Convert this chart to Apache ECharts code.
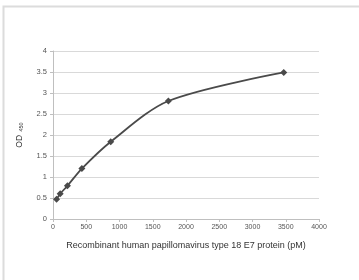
<!DOCTYPE html>
<html><head><meta charset="utf-8">
<script src="https://cdn.jsdelivr.net/npm/echarts@6/dist/echarts.min.js"></script>
<style>html,body{margin:0;padding:0;background:#fff}#c{width:359px;height:280px}</style>
</head><body><div id="c"></div>
<script>
const concentrations = [54, 108, 217, 434, 868, 1735, 3470];
const odValues = [0.47, 0.60, 0.79, 1.20, 1.84, 2.81, 3.49];
const xTitle = 'Recombinant human papillomavirus type 18 E7 protein (pM)';

const chart = echarts.init(document.getElementById('c'));
const font = '"Liberation Sans", Arial, sans-serif';
chart.setOption({
  animation: false,
  backgroundColor: '#fff',
  graphic: [{type:'rect', shape:{x:3.5,y:6.5,width:420,height:400}, style:{fill:'none', stroke:'#dcdcdc', lineWidth:2}}],
  grid: {left: 53, right: 40, top: 51, bottom: 61},
  xAxis: {
    type: 'value', min: 0, max: 4000, interval: 500,
    name: xTitle, nameLocation: 'middle', nameGap: 22,
    nameTextStyle: {fontFamily: font, fontSize: 9, color: '#333'},
    axisLine: {show: true, lineStyle: {color: '#bfbfbf'}},
    axisTick: {show: true, length: 3, lineStyle: {color: '#bfbfbf'}},
    axisLabel: {fontFamily: font, fontSize: 7, color: '#555', margin: 5, formatter: v => String(v)},
    splitLine: {show: false}
  },
  yAxis: {
    type: 'value', min: 0, max: 4, interval: 0.5,
    name: '{a|OD} {s|450}', nameLocation: 'middle', nameGap: 27, nameRotate: 90,
    nameTextStyle: {fontFamily: font, color: '#333', rich: {a:{fontSize: 8.5, fontFamily: font, color:'#333'}, s:{fontSize: 5.5, fontFamily: font, color:'#333', padding:[4,0,0,0]}}},
    axisLine: {show: true, lineStyle: {color: '#bfbfbf'}},
    axisTick: {show: true, length: 3, lineStyle: {color: '#bfbfbf'}},
    axisLabel: {fontFamily: font, fontSize: 7.5, color: '#555', margin: 6, formatter: v => String(v)},
    splitLine: {show: true, lineStyle: {color: '#d9d9d9'}}
  },
  series: [{
    type: 'line',
    data: concentrations.map((c, i) => [c, odValues[i]]),
    smooth: 0.3,
    symbol: 'diamond', symbolSize: 7,
    itemStyle: {color: '#4a4a4a'},
    lineStyle: {color: '#4a4a4a', width: 1.8}
  }]
});
</script></body></html>
